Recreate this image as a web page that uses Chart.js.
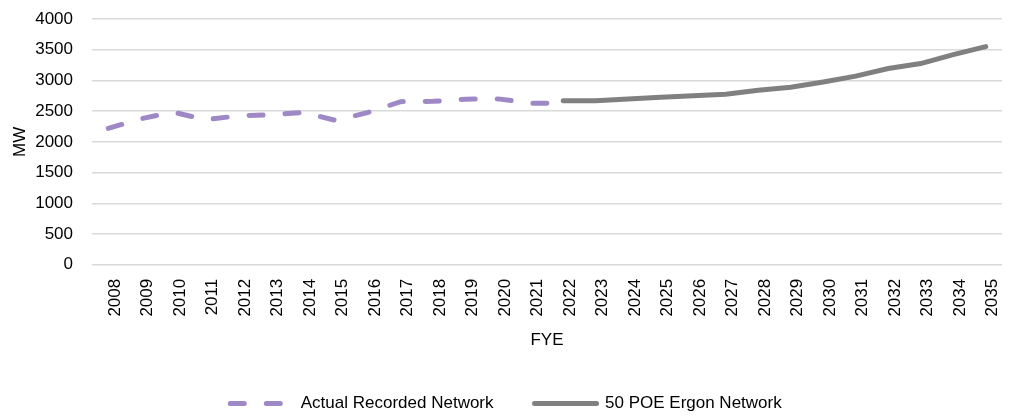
<!DOCTYPE html>
<html>
<head>
<meta charset="utf-8">
<script src="https://cdn.jsdelivr.net/npm/chart.js@4"></script>
<style>
  html, body { margin: 0; padding: 0; background: #fff; }
  #wrap { width: 1009px; height: 416px; }
</style>
</head>
<body>
<div id="wrap"><canvas id="mwChart"></canvas></div>
<script>
// Financial years shown on the x axis
const years = ["2008", "2009", "2010", "2011", "2012", "2013", "2014", "2015", "2016", "2017",
  "2018", "2019", "2020", "2021", "2022", "2023", "2024", "2025", "2026", "2027",
  "2028", "2029", "2030", "2031", "2032", "2033", "2034", "2035"];

// Actual recorded demand (MW), ends at 2022
const actualRecorded = [2220, 2375, 2485, 2360, 2425, 2440, 2480, 2350, 2480, 2655,
  2660, 2695, 2700, 2630, 2625, null, null, null, null, null,
  null, null, null, null, null, null, null, null];

// 50 POE forecast (MW), starts at 2022
const poe50 = [null, null, null, null, null, null, null, null, null, null,
  null, null, null, null, 2670, 2670, 2700, 2725, 2750, 2775,
  2840, 2890, 2975, 3070, 3195, 3275, 3420, 3550];

const yTicks = [0, 500, 1000, 1500, 2000, 2500, 3000, 3500, 4000];

Chart.defaults.font.family = "'Liberation Sans', Arial, sans-serif";
Chart.defaults.font.size = 17;
Chart.defaults.color = "#000";

// keep the wide gap between legend items but make the legend box short
const shortLegend = {
  id: "shortLegend",
  afterInit: function (chart) {
    const legend = chart.legend;
    const origFit = legend.fit;
    legend.fit = function () {
      origFit.call(this);
      this.height = 62;
    };
  }
};

const ctx = document.getElementById("mwChart").getContext("2d");
const mwChart = new Chart(ctx, {
  type: "line",
  data: {
    labels: years,
    datasets: [
      {
        label: "Actual Recorded Network",
        data: actualRecorded,
        borderColor: "#9E89C6",
        backgroundColor: "#9E89C6",
        borderWidth: 5,
        borderDash: [14, 22],
        borderCapStyle: "round",
        pointRadius: 0,
        tension: 0
      },
      {
        label: "50 POE Ergon Network",
        data: poe50,
        borderColor: "#808080",
        backgroundColor: "#808080",
        borderWidth: 5,
        borderCapStyle: "round",
        pointRadius: 0,
        tension: 0
      }
    ]
  },
  plugins: [shortLegend],
  options: {
    responsive: true,
    maintainAspectRatio: false,
    animation: false,
    layout: { padding: { top: 19, right: 7, left: 10, bottom: 0 } },
    plugins: {
      tooltip: { enabled: false },
      legend: {
        position: "bottom",
        labels: {
          usePointStyle: true,
          pointStyle: "line",
          pointStyleWidth: 62,
          padding: 41,
          // point style legend loses the dash, so put it back from the dataset
          generateLabels: function (chart) {
            const items = Chart.defaults.plugins.legend.labels.generateLabels(chart);
            items.forEach(function (item) {
              const ds = chart.data.datasets[item.datasetIndex];
              item.lineDash = ds.borderDash || [];
              item.lineWidth = 5;
              item.lineCap = "round";
              item.strokeStyle = ds.borderColor;
              item.fillStyle = ds.borderColor;
            });
            return items;
          }
        }
      }
    },
    scales: {
      x: {
        offset: true,
        grid: { display: false },
        border: { display: false },
        ticks: { maxRotation: 90, minRotation: 90, autoSkip: false, padding: 6, labelOffset: 7 },
        title: { display: true, text: "FYE", padding: { top: 8, bottom: 3 } },
        afterFit: function (scale) {
          scale.paddingLeft = 0;
          scale.paddingRight = 0;
        }
      },
      y: {
        min: 0,
        max: 4000,
        afterBuildTicks: function (scale) {
          scale.ticks = yTicks.map(v => ({ value: v }));
        },
        grid: { color: "#D9D9D9", lineWidth: 1.5, drawTicks: false },
        border: { display: false },
        ticks: { padding: 19, callback: function (v) { return String(v); } },
        title: { display: true, text: "MW", padding: { top: 0, bottom: 0 } },
        afterFit: function (scale) {
          scale.width = 82;
          scale.paddingTop = 0;
          scale.paddingBottom = 0;
        }
      }
    }
  }
});
</script>
</body>
</html>
